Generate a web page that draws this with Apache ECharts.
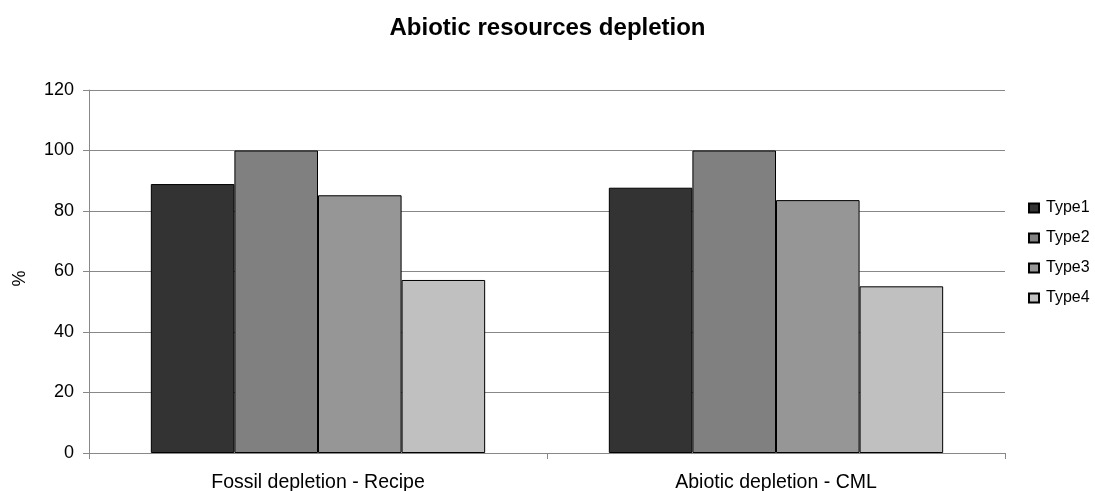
<!DOCTYPE html>
<html><head><meta charset="utf-8">
<script src="https://cdn.jsdelivr.net/npm/echarts@6/dist/echarts.min.js"></script>
<style>html,body{margin:0;padding:0;background:#fff}#c{width:1095px;height:491px}</style>
</head><body><div id="c"></div>
<script>
const categories = ['Fossil depletion - Recipe', 'Abiotic depletion - CML'];
const seriesNames = ['Type1', 'Type2', 'Type3', 'Type4'];
const type1 = [88.9, 87.7];
const type2 = [100, 100];
const type3 = [85.2, 83.6];
const type4 = [57.2, 55.1];
const values = [type1, type2, type3, type4];
const colors = ['#333333', '#808080', '#969696', '#c0c0c0'];
const font = 'Liberation Sans, Arial, sans-serif';

const chart = echarts.init(document.getElementById('c'));
chart.setOption({
  animation: false,
  title: { text: 'Abiotic resources depletion', left: 'center', top: 11,
    textStyle: { fontFamily: font, fontSize: 24, fontWeight: 'bold', color: '#000' } },
  grid: { left: 89, right: 90, top: 90, bottom: 38, containLabel: false, outerBoundsMode: 'none' },
  legend: { orient: 'vertical', left: 1028, top: 200, padding: 0, itemGap: 14, itemWidth: 10, itemHeight: 9,
    icon: 'rect', data: seriesNames,
    textStyle: { fontFamily: font, fontSize: 16, color: '#000', padding: [0,0,0,2] } },
  xAxis: { type: 'category', data: categories,
    axisLine: { lineStyle: { color: '#888' } },
    axisTick: { show: true, length: 6, lineStyle: { color: '#888' } },
    axisLabel: { fontFamily: font, fontSize: 19.5, color: '#000', margin: 20 } },
  yAxis: { type: 'value', min: 0, max: 120, interval: 20, name: '%', nameLocation: 'middle', nameGap: 60,
    nameTextStyle: { fontFamily: font, fontSize: 18, color: '#000', padding: [0, 14, 0, 0] },
    axisLine: { show: true, lineStyle: { color: '#888' } },
    axisTick: { show: true, length: 6, lineStyle: { color: '#888' } },
    splitLine: { lineStyle: { color: '#888' } },
    axisLabel: { fontFamily: font, fontSize: 18, color: '#000', margin: 15 } },
  series: seriesNames.map((n, i) => ({
    name: n, type: 'bar', data: values[i], barGap: '0%', barCategoryGap: '27%',
    itemStyle: { color: colors[i], borderColor: '#000', borderWidth: 1 }
  }))
});
</script></body></html>
